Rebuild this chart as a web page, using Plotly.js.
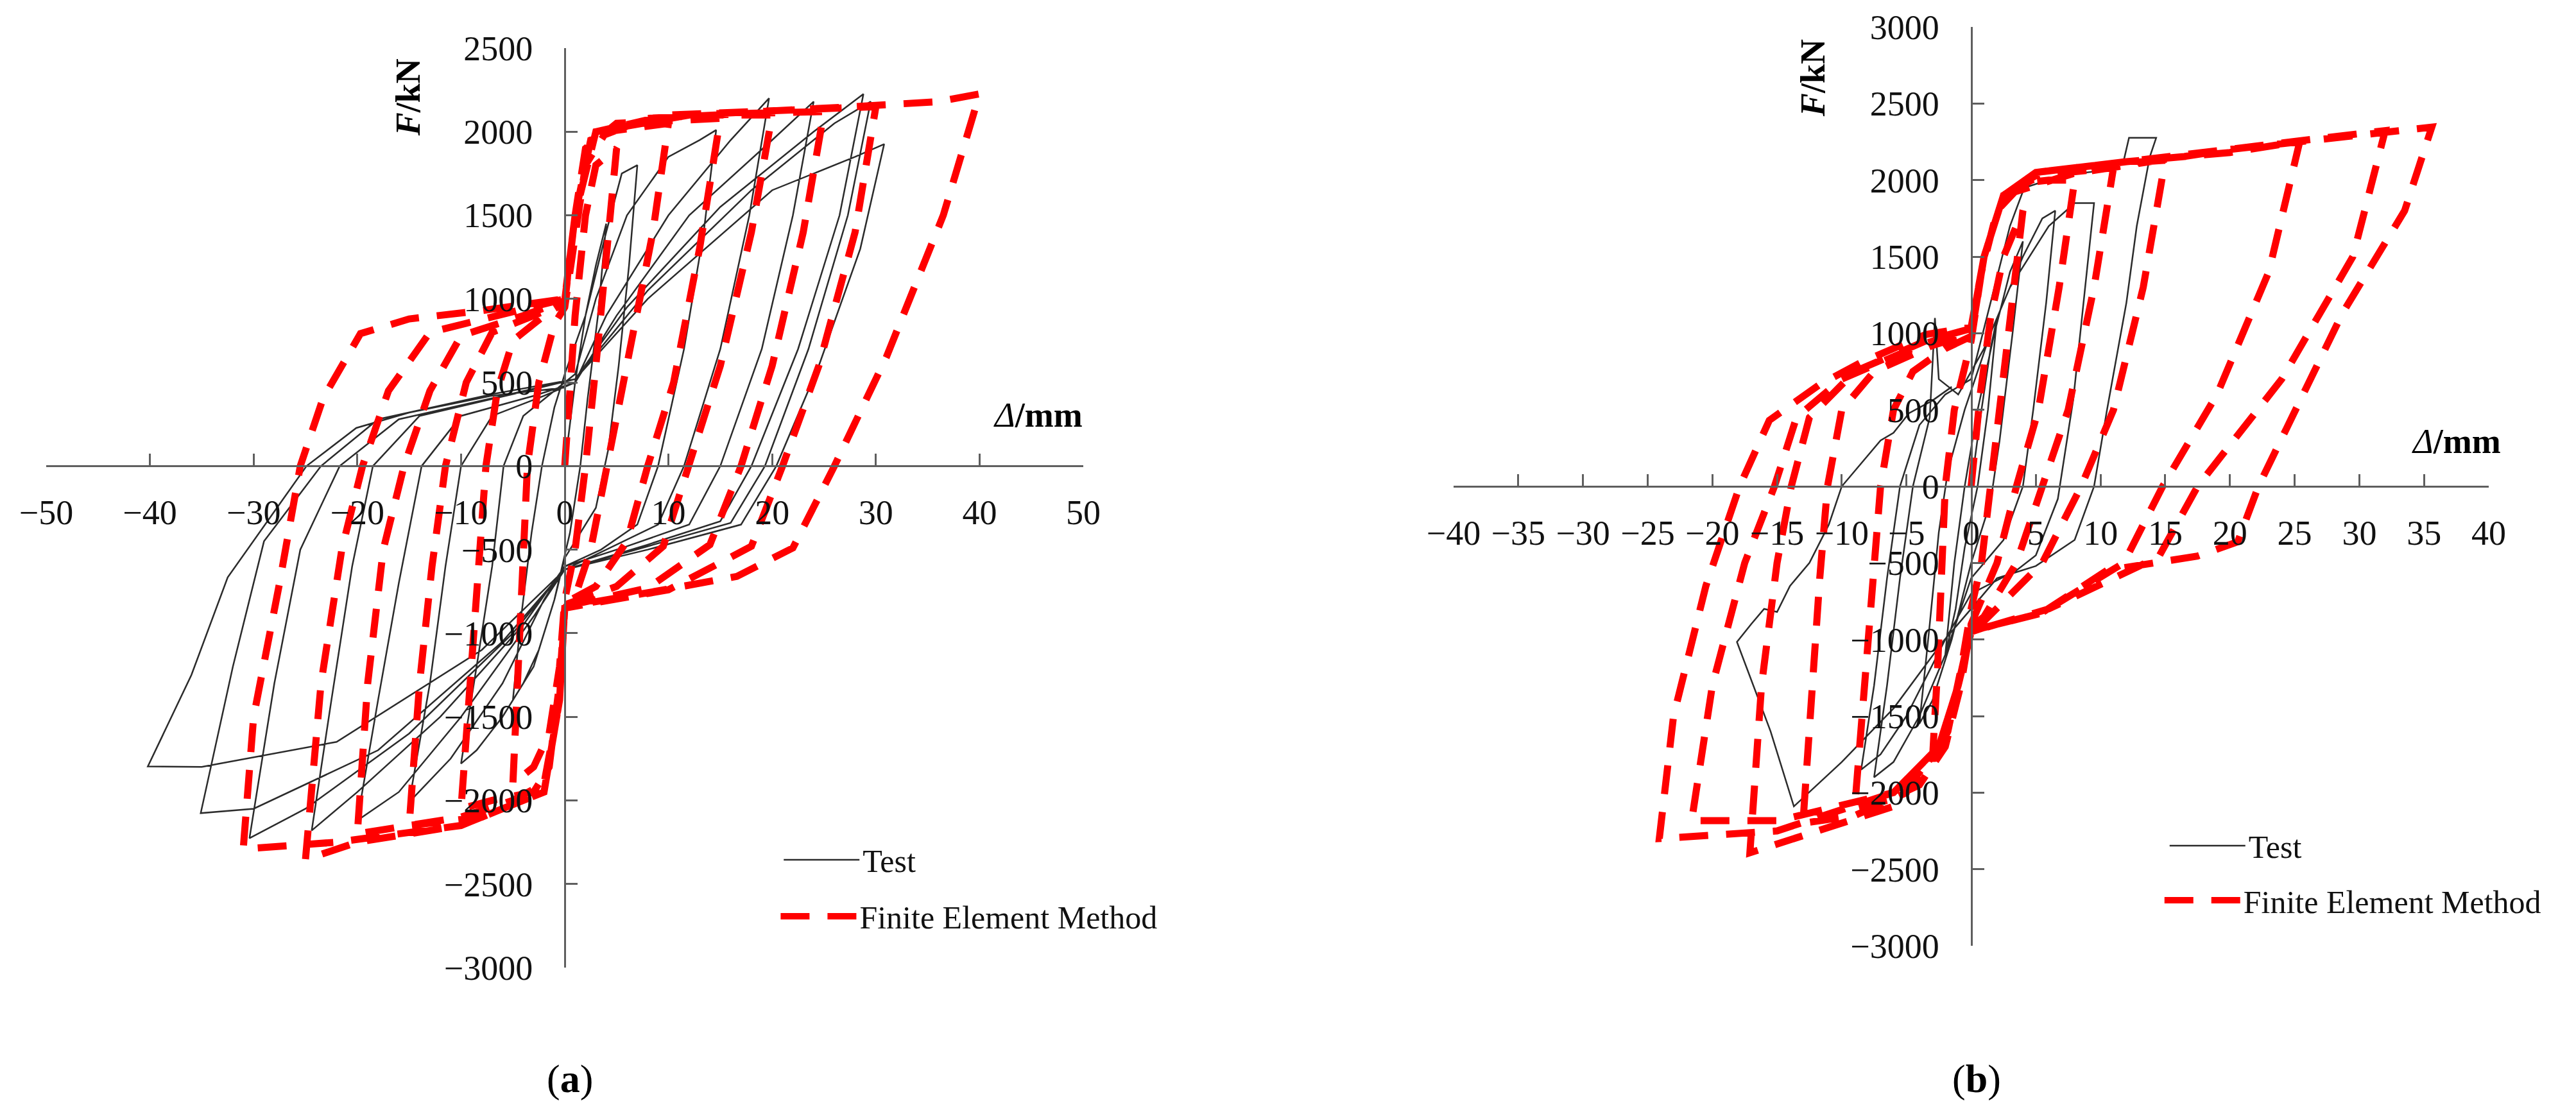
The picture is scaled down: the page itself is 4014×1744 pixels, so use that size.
<!DOCTYPE html>
<html>
<head>
<meta charset="utf-8">
<script src="https://cdn.plot.ly/plotly-3.0.1.min.js"></script>
<style>
  html, body { margin: 0; padding: 0; background: #ffffff; }
  #chart { width: 4014px; height: 1744px; }
</style>
</head>
<body>
<div id="chart"></div>
<script>
// Hysteresis curves, (a) left panel and (b) right panel.

const aTestX = [
  0, 1, 2, 3, 4, 3.2, 2.2, 1.5, 0.5, -1, -2.5, -4, -5,
  -4.2, -3.2, -2.2, -1, 0, 2, 4, 5.5, 7,
  6.2, 5.2, 4.2, 3, 1, 0, -1, -3, -6, -8.5, -10,
  -8.5, -7, -5.9, -4, -1, 1, 3, 6, 10, 13, 14.6,
  13.4, 11.5, 9, 7, 3.5, 0, -2, -6, -11, -15,
  -13, -11.5, -10, -7, -2, 1, 4, 10, 16, 19.7,
  17.8, 15, 11.5, 9, 4, 0, -3, -10, -16, -20,
  -18, -16, -13.8, -10, -3, 1, 5, 12, 20, 24,
  22, 19, 15, 12, 6, 0, -4, -12, -20, -24.4,
  -22.5, -20.5, -18.5, -14, -5, 1, 6, 15, 24, 28.8,
  26.5, 22.5, 18, 15, 8, 0, -5, -15, -25, -30.4,
  -28, -25.5, -21.7, -16, -6, 1, 8, 18, 26, 29.5,
  27.3, 23.5, 19.3, 16, 8, 0, -6, -18, -30, -35.1,
  -32, -29, -23.5, -18, -7, 1, 8, 20, 28, 30.8,
  28.5, 24.5, 20.4, 17, 8, 0, -8, -22, -35, -40.2,
  -36, -32.5, -24.9, -20.1, -15, -7.1, 0
];
const aTestF = [
  0, 500, 900, 1200, 1450, 900, 400, 0, -400, -800, -1100, -1300, -1400,
  -900, -400, 0, 350, 550, 900, 1400, 1750, 1800,
  1200, 600, 100, -250, -450, -550, -800, -1200, -1500, -1700, -1780,
  -1200, -600, 0, 300, 450, 550, 1000, 1500, 1850, 1950, 2010,
  1400, 700, 0, -350, -500, -600, -800, -1300, -1750, -2010,
  -1300, -600, 0, 300, 420, 500, 900, 1500, 1950, 2200,
  1500, 700, 0, -350, -500, -620, -900, -1500, -1950, -2120,
  -1400, -700, 0, 300, 420, 500, 900, 1500, 1950, 2180,
  1500, 700, 0, -350, -480, -600, -950, -1500, -1950, -2180,
  -1400, -600, 0, 300, 430, 520, 950, 1550, 2000, 2226,
  1500, 700, 0, -330, -470, -620, -1000, -1600, -2050, -2226,
  -1300, -500, 0, 280, 420, 520, 1050, 1650, 2050, 2180,
  1500, 700, 0, -340, -480, -620, -1050, -1700, -2050, -2076,
  -1200, -450, 0, 280, 430, 520, 1000, 1650, 1850, 1926,
  1300, 600, 0, -350, -500, -620, -1100, -1650, -1800, -1797,
  -1250, -666, 0, 228, 320, 420, 470
];

const aFemX = [
  0, 1, 2, 3, 5,
  4, 3, 2, 1, 0, -0.5, -1.5, -3, -5,
  -4.5, -4, -3.6, -2.5, -1, 0, 1, 2, 4, 7, 10,
  8.5, 6, 4, 2.5, 1, 0, -0.5, -1.5, -3, -7, -10,
  -9, -8.3, -7.6, -6.5, -5, -2, 0, 1, 2, 5, 10, 15,
  13, 10.5, 8, 6, 3, 0, -0.5, -2, -5, -10, -15,
  -14, -12.8, -11.5, -9.5, -7, -3, 0, 1, 2.5, 8, 15, 20,
  18, 15, 12, 9.5, 5, 0, -0.5, -2, -8, -15, -20,
  -19, -17.5, -15.5, -13, -10, -4, 0, 1, 2.5, 8, 18, 25,
  23, 20, 17, 14, 8, 0, -0.5, -2, -10, -20, -25,
  -23.5, -21.5, -19.5, -17, -13, -5, 0, 1, 3, 10, 22, 30,
  28, 24.5, 21, 18, 10, 0, -0.5, -2, -10, -22, -31,
  -30, -27.5, -25.5, -23.3, -19.7, -15, -8, 0, 1, 3, 12, 28, 36, 40,
  36.5, 31, 26, 22, 16.6, 8.7, 0.8
];
const aFemF = [
  0, 900, 1500, 1800, 1900,
  1200, 600, 0, -500, -800, -1200, -1600, -1800, -1900,
  -1200, -500, 0, 500, 850, 950, 1400, 1800, 2000, 2030, 2050,
  1400, 600, 0, -500, -780, -850, -1300, -1800, -1950, -2000, -2050,
  -1200, -500, 0, 450, 750, 900, 980, 1500, 1900, 2050, 2060, 2080,
  1300, 500, 0, -450, -720, -820, -1400, -1900, -2000, -2100, -2150,
  -1300, -600, 0, 500, 800, 900, 980, 1500, 1950, 2080, 2100, 2100,
  1400, 600, 0, -480, -720, -830, -1400, -1950, -2100, -2150, -2200,
  -1300, -500, 0, 450, 780, 900, 990, 1500, 1950, 2080, 2110, 2120,
  1400, 600, 0, -470, -730, -840, -1400, -1950, -2150, -2250, -2354,
  -1300, -500, 0, 450, 800, 920, 1000, 1500, 2000, 2100, 2130, 2150,
  1400, 600, 0, -480, -740, -850, -1400, -1950, -2150, -2250, -2290,
  -1500, -700, 0, 406, 792, 880, 930, 1000, 1500, 2000, 2100, 2150, 2180, 2226,
  1500, 650, 0, -490, -660, -750, -835
];

const bTestX = [
  0, 0.8, 1.5, 2,
  1.3, 0.5, -0.5, -1.2, -2,
  -1.3, -0.5, 0.5, 1.8, 3, 4,
  3.2, 2.2, 1.5, 0, -1.5, -3, -4,
  -3.2, -2.5, -1.8, -0.5, 1.5, 4, 5.5, 6.5,
  5.8, 4.8, 4, 2.5, 0, -2, -4, -6, -7.5,
  -6.5, -5.5, -4.5, -3.2, -2.8, -2.5, -1, 1, 3, 6, 8, 9.5,
  8.7, 7.9, 6.7, 5, 3.5, 0, -2, -5, -7, -8.5,
  -7.5, -6.5, -5.5, -4, -2, 0, 1.5, 3, 4.1, 7, 10.5, 11.8, 12.2, 14.3,
  13.8, 12.8, 12, 10.5, 9.5, 8, 5, 2, 0, -2.2, -6, -10, -13.7,
  -15.5, -18.1, -17, -16, -15, -14, -12.5, -11, -10, -8.5, -7, -6, -4.8, -3, -1.5
];
const bTestF = [
  0, 500, 900, 1100,
  500, 0, -400, -800, -1100,
  -500, 0, 500, 1000, 1400, 1600,
  1000, 300, -100, -500, -1000, -1400, -1550,
  -900, -300, 100, 500, 1000, 1500, 1750, 1800,
  1200, 500, 0, -350, -600, -1100, -1500, -1800, -1900,
  -1300, -600, 0, 450, 1100, 700, 600, 900, 1300, 1700, 1850, 1850,
  1200, 572, -82, -450, -549, -700, -1000, -1500, -1750, -1850,
  -1300, -600, 0, 400, 600, 700, 1200, 1700, 1949, 2030, 2066, 2130, 2276, 2276,
  2150, 1700, 1200, 500, 0, -350, -520, -600, -800, -1016, -1450, -1800, -2090,
  -1600, -1016, -900, -800, -820, -650, -500, -250, 0, 150, 300, 350, 478, 560, 650
];

const bFemX = [
  0, 0.7, 1.5, 2.5, 4,
  3.2, 2.4, 1.6, 0.8, 0, -0.8, -1.8, -3,
  -2.6, -2.3, -2, -1.3, -0.5, 0, 0.8, 2, 4, 6, 8,
  6.8, 5.2, 3.5, 2, 0.5, 0, -0.8, -2, -4, -6.5, -9,
  -8.2, -7.6, -7, -6, -4.5, -2, 0, 1, 2.5, 5, 8, 11,
  9.5, 7.5, 5.5, 3.5, 1, 0, -1, -2.5, -5, -9, -13,
  -12.3, -11.7, -11.1, -10, -7.5, -3, 0, 1, 2.5, 5, 10, 15,
  13.3, 11, 8.5, 5.5, 1, 0, -1, -2.5, -6, -12, -17.1,
  -16.2, -15, -13.9, -12.5, -9, -3.5, 0, 1, 2.5, 5, 12, 20, 25.4,
  23, 19, 14.8, 11.8, 5.4, 1, 0, -1, -2.5, -6, -14.9, -21.6,
  -20, -17.5, -15.2, -13.5, -10, -4, 0, 1, 2.5, 6, 15, 25, 32,
  29.5, 24, 17.5, 14.5, 6, 1, 0, -1, -2.5, -6, -15, -24.1,
  -23, -20.5, -17.9, -15.6, -11.7, -8.6, -3.5, 0, 1, 2.5, 7.9, 20, 30, 35.6,
  33.5, 28.7, 22.2, 20.6, 17.5, 10.5, 5.4, 1
];
const bFemF = [
  0, 600, 1100, 1500, 1800,
  1200, 600, 0, -500, -800, -1200, -1600, -1800,
  -1200, -500, 0, 500, 800, 950, 1400, 1800, 1980, 2000, 2000,
  1300, 500, 0, -500, -800, -900, -1300, -1700, -1950, -2050, -2100,
  -1300, -600, 0, 500, 750, 900, 980, 1500, 1900, 2030, 2060, 2080,
  1300, 500, 0, -500, -850, -920, -1300, -1700, -2000, -2150, -2200,
  -1300, -600, 0, 500, 750, 920, 1000, 1500, 1900, 2050, 2100, 2130,
  1300, 500, 0, -500, -880, -920, -1300, -1700, -2090, -2250, -2393,
  -1300, -500, 0, 450, 750, 950, 1030, 1500, 1900, 2050, 2120, 2180, 2253,
  1400, 600, 0, -500, -829, -922, -950, -1300, -1700, -2000, -2183, -2183,
  -1300, -500, 0, 450, 700, 920, 1030, 1500, 1900, 2060, 2150, 2250, 2323,
  1500, 700, 0, -460, -800, -922, -950, -1300, -1700, -2000, -2250, -2300,
  -1500, -650, 0, 431, 665, 805, 992, 1039, 1500, 1900, 2043, 2200, 2290, 2346,
  1800, 1131, 0, -362, -455, -549, -829, -922
];

const aXTicks = [-50, -40, -30, -20, -10, 0, 10, 20, 30, 40, 50];
const aYTicks = [-3000, -2500, -2000, -1500, -1000, -500, 0, 500, 1000, 1500, 2000, 2500];
const bXTicks = [-40, -35, -30, -25, -20, -15, -10, -5, 0, 5, 10, 15, 20, 25, 30, 35, 40];
const bYTicks = [-3000, -2500, -2000, -1500, -1000, -500, 0, 500, 1000, 1500, 2000, 2500, 3000];

const seriesNames = ['Test', 'Finite Element Method'];

const FONT = 'Liberation Serif, Times New Roman, serif';
const AXIS_GRAY = '#5f5f5f';
const TEST_STYLE = { color: '#2b2b2b', width: 2.5 };
const FEM_STYLE = { color: '#ff0000', width: 11, dash: '45px,28px' };

const traces = [
  { x: aTestX, y: aTestF, xaxis: 'x', yaxis: 'y', name: seriesNames[0], legend: 'legend',
    type: 'scatter', mode: 'lines', line: TEST_STYLE },
  { x: aFemX, y: aFemF, xaxis: 'x', yaxis: 'y', name: seriesNames[1], legend: 'legend2',
    type: 'scatter', mode: 'lines', line: FEM_STYLE },
  { x: bTestX, y: bTestF, xaxis: 'x2', yaxis: 'y2', name: seriesNames[0], legend: 'legend3',
    type: 'scatter', mode: 'lines', line: TEST_STYLE },
  { x: bFemX, y: bFemF, xaxis: 'x2', yaxis: 'y2', name: seriesNames[1], legend: 'legend4',
    type: 'scatter', mode: 'lines', line: FEM_STYLE },
];

// crossing axes: each axis is drawn "free" through the other axis' zero
function xAxis(domain, range, ticks, pos) {
  return {
    domain: domain, range: range, anchor: 'free', position: pos,
    tickvals: ticks, ticks: 'inside', ticklen: 18, tickwidth: 3, tickcolor: AXIS_GRAY,
    showline: true, linecolor: AXIS_GRAY, linewidth: 3,
    showgrid: false, zeroline: false, fixedrange: true,
    ticklabelstandoff: 24,
    tickfont: { family: FONT, size: 54, color: '#111' },
  };
}
function yAxis(domain, range, ticks, pos) {
  return {
    domain: domain, range: range, anchor: 'free', position: pos,
    tickvals: ticks, ticks: 'inside', ticklen: 18, tickwidth: 3, tickcolor: AXIS_GRAY,
    showline: true, linecolor: AXIS_GRAY, linewidth: 3,
    showgrid: false, zeroline: false, fixedrange: true,
    ticklabelstandoff: 38,
    tickfont: { family: FONT, size: 54, color: '#111' },
  };
}

function legendAt(x, y) {
  return {
    x: x, y: y, xanchor: 'left', yanchor: 'middle',
    bgcolor: 'rgba(0,0,0,0)', borderwidth: 0, itemwidth: 118,
    font: { family: FONT, size: 50, color: '#111' },
  };
}

function note(text, x, y, size, extra) {
  return Object.assign({
    text: text, x: x, y: y, xref: 'paper', yref: 'paper', showarrow: false,
    xanchor: 'center', yanchor: 'middle',
    font: { family: FONT, size: size, color: '#000' },
  }, extra || {});
}

const layout = {
  width: 4014,
  height: 1744,
  margin: { l: 0, r: 0, t: 0, b: 0, pad: 0 },
  paper_bgcolor: '#ffffff',
  plot_bgcolor: 'rgba(0,0,0,0)',
  showlegend: true,
  xaxis: xAxis([0.017937, 0.420528], [-50, 50], aXTicks, 0.583509),
  yaxis: yAxis([0.135321, 0.956995], [-3000, 2500], aYTicks, 0.219232),
  xaxis2: xAxis([0.564275, 0.966119], [-40, 40], bXTicks, 0.565367),
  yaxis2: yAxis([0.154817, 0.975917], [-3000, 3000], bYTicks, 0.765197),
  legend: legendAt(0.3030, 0.2317),
  legend2: legendAt(0.3018, 0.1812),
  legend3: legendAt(0.8410, 0.2443),
  legend4: legendAt(0.8390, 0.1955),
  annotations: [
    note('<b><i>F</i>/kN</b>', 0.1585, 0.9128, 54, { textangle: -90 }),
    note('<b><i>F</i>/kN</b>', 0.7038, 0.9300, 54, { textangle: -90 }),
    note('<i>Δ</i><b>/mm</b>', 0.4208, 0.6290, 54, { xanchor: 'right' }),
    note('<i>Δ</i><b>/mm</b>', 0.9714, 0.6055, 54, { xanchor: 'right' }),
    note('(<b>a</b>)', 0.2212, 0.0356, 62),
    note('(<b>b</b>)', 0.7673, 0.0356, 62),
  ],
};

Plotly.newPlot('chart', traces, layout, { displayModeBar: false, staticPlot: true });
</script>
</body>
</html>
